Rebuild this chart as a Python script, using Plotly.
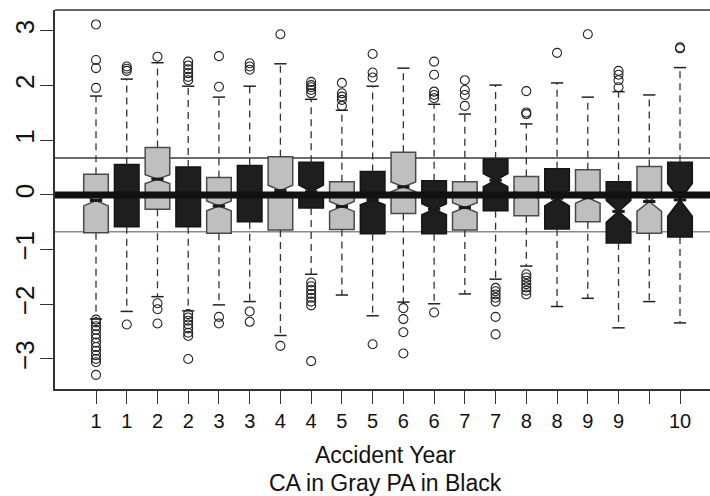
import plotly.graph_objects as go

# Box positions along the x axis and their tick labels (accident year)
positions = list(range(1, 21))
tick_labels = ["1", "1", "2", "2", "3", "3", "4", "4", "5", "5",
               "6", "6", "7", "7", "8", "8", "9", "9", "", "10"]
group = ["CA", "PA"] * 10

# Box statistics per position
q1 = [-0.69, -0.58, -0.26, -0.58, -0.70, -0.49, -0.64, -0.24, -0.63, -0.71,
      -0.34, -0.71, -0.64, -0.29, -0.38, -0.62, -0.49, -0.88, -0.70, -0.77]
median = [-0.10, 0.00, 0.29, 0.00, -0.20, 0.00, 0.08, 0.06, -0.21, -0.09,
          0.15, -0.26, -0.23, 0.27, 0.00, -0.06, -0.05, -0.30, -0.12, -0.09]
q3 = [0.38, 0.56, 0.87, 0.51, 0.32, 0.54, 0.70, 0.60, 0.24, 0.43,
      0.78, 0.26, 0.24, 0.66, 0.34, 0.48, 0.46, 0.24, 0.52, 0.60]
whisker_lo = [-2.27, -2.13, -1.86, -2.12, -2.01, -1.95, -2.57, -1.45, -1.83, -2.21,
              -1.96, -1.99, -1.81, -1.54, -1.30, -2.04, -1.89, -2.43, -1.95, -2.34]
whisker_hi = [1.81, 2.12, 2.42, 1.99, 1.79, 1.99, 2.40, 1.75, 1.55, 1.99,
              2.32, 1.66, 1.48, 2.01, 1.30, 2.05, 1.79, 1.89, 1.83, 2.33]
notch_half = [0.10, 0.05, 0.08, 0.05, 0.09, 0.05, 0.10, 0.12, 0.09, 0.09,
              0.09, 0.10, 0.09, 0.12, 0.06, 0.14, 0.10, 0.20, 0.18, 0.30]
outliers = [
    [3.12, 2.47, 2.32, 1.96, -2.28, -2.33, -2.40, -2.47, -2.55, -2.62, -2.70,
     -2.78, -2.85, -2.93, -3.00, -3.06, -3.29],
    [2.35, 2.31, 2.27, -2.37],
    [2.53, -1.98, -2.09, -2.35],
    [2.44, 2.37, 2.30, 2.23, 2.16, 2.10, -2.18, -2.24, -2.30, -2.37, -2.44,
     -2.52, -2.58, -3.00],
    [2.54, 1.98, -2.23, -2.35],
    [2.41, 2.35, 2.29, -2.13, -2.32],
    [2.94, -2.76],
    [2.07, 2.01, 1.97, 1.92, 1.86, -1.60, -1.67, -1.74, -1.81, -1.88, -1.95,
     -2.02, -3.04],
    [2.05, 1.86, 1.80, 1.74, 1.63],
    [2.58, 2.24, 2.15, -2.73],
    [-2.07, -2.27, -2.51, -2.90],
    [2.44, 2.20, 1.89, 1.83, 1.77, -2.15],
    [2.10, 1.92, 1.83, 1.63],
    [-1.70, -1.76, -1.82, -1.88, -1.95, -2.23, -2.55],
    [1.90, 1.51, 1.48, -1.45, -1.51, -1.57, -1.63, -1.69, -1.75, -1.82],
    [2.60],
    [2.94],
    [2.27, 2.20, 2.10, 1.97],
    [],
    [2.70, 2.68],
]
y_ticks = [-3, -2, -1, 0, 1, 2, 3]
quartile_ref = 0.6745  # standard normal quartiles

BOX_W = 0.8
STAPLE_HALF = 0.2
MEDIAN_HALF = 0.2
FONT = "Liberation Sans, Arial, Helvetica, sans-serif"

styles = {
    "CA": dict(fill="#bfbfbf", edge="#4a4a4a"),
    "PA": dict(fill="#1e1e1e", edge="#141414"),
}

fig = go.Figure()

# notched boxes, one trace per group
for g in ["CA", "PA"]:
    idx = [i for i in range(len(positions)) if group[i] == g]
    fig.add_trace(go.Box(
        x=[positions[i] for i in idx],
        q1=[q1[i] for i in idx],
        median=[median[i] for i in idx],
        q3=[q3[i] for i in idx],
        lowerfence=[q1[i] for i in idx],
        upperfence=[q3[i] for i in idx],
        notched=True,
        notchspan=[notch_half[i] for i in idx],
        notchwidth=0.5,
        width=BOX_W,
        whiskerwidth=0,
        boxpoints=False,
        fillcolor=styles[g]["fill"],
        line=dict(color=styles[g]["edge"], width=1.5),
        hoverinfo="skip",
        showlegend=False,
    ))

# dashed whiskers
wx, wy = [], []
for p, a, b, lo, hi in zip(positions, q1, q3, whisker_lo, whisker_hi):
    wx += [p, p, None, p, p, None]
    wy += [b, hi, None, a, lo, None]
fig.add_trace(go.Scatter(x=wx, y=wy, mode="lines",
                         line=dict(color="#333333", width=1.3, dash="7px,5px"),
                         hoverinfo="skip", showlegend=False))

# staples at whisker ends
sx, sy = [], []
for p, lo, hi in zip(positions, whisker_lo, whisker_hi):
    sx += [p - STAPLE_HALF, p + STAPLE_HALF, None, p - STAPLE_HALF, p + STAPLE_HALF, None]
    sy += [hi, hi, None, lo, lo, None]
fig.add_trace(go.Scatter(x=sx, y=sy, mode="lines",
                         line=dict(color="#222222", width=1.5),
                         hoverinfo="skip", showlegend=False))

# thick median bars
mx, my = [], []
for p, m in zip(positions, median):
    mx += [p - MEDIAN_HALF, p + MEDIAN_HALF, None]
    my += [m, m, None]
fig.add_trace(go.Scatter(x=mx, y=my, mode="lines",
                         line=dict(color="#1a1a1a", width=3),
                         hoverinfo="skip", showlegend=False))

# outlying points
ox, oy = [], []
for p, pts in zip(positions, outliers):
    ox += [p] * len(pts)
    oy += pts
fig.add_trace(go.Scatter(x=ox, y=oy, mode="markers",
                         marker=dict(symbol="circle-open", size=9,
                                     color="#222222", line=dict(width=1.1)),
                         hoverinfo="skip", showlegend=False))

shapes = [
    # reference quartile lines behind the boxes
    dict(type="line", xref="paper", x0=0, x1=1, yref="y",
         y0=quartile_ref, y1=quartile_ref, layer="below",
         line=dict(color="#3a3a3a", width=1.5)),
    dict(type="line", xref="paper", x0=0, x1=1, yref="y",
         y0=-quartile_ref, y1=-quartile_ref, layer="below",
         line=dict(color="#8a8a8a", width=1.5)),
    # heavy zero line on top
    dict(type="line", xref="paper", x0=0, x1=1, yref="y",
         y0=0, y1=0, layer="above",
         line=dict(color="#111111", width=7)),
    # top edge of the plot frame
    dict(type="line", xref="paper", x0=0, x1=1, yref="paper",
         y0=1, y1=1, layer="above",
         line=dict(color="#333333", width=1.5)),
]

fig.update_layout(
    width=710, height=496,
    margin=dict(l=55, r=0, t=10, b=107),
    paper_bgcolor="white", plot_bgcolor="white",
    font=dict(family=FONT, color="#111111"),
    shapes=shapes,
    showlegend=False,
    annotations=[
        dict(text="Accident Year", xref="paper", yref="paper",
             x=0.5053, y=-0.174, xanchor="center", yanchor="middle",
             showarrow=False, font=dict(size=23, family=FONT, color="#111111")),
        dict(text="CA in Gray PA in Black", xref="paper", yref="paper",
             x=0.5053, y=-0.248, xanchor="center", yanchor="middle",
             showarrow=False, font=dict(size=23, family=FONT, color="#111111")),
    ],
)

fig.update_xaxes(
    range=[-0.334, 20.976],
    tickmode="array", tickvals=positions, ticktext=tick_labels,
    ticks="outside", ticklen=13, tickwidth=1.3, tickcolor="#333333",
    showline=True, linecolor="#333333", linewidth=1.5,
    showgrid=False, zeroline=False,
    tickfont=dict(size=20, family=FONT, color="#111111"),
)
fig.update_yaxes(
    range=[-3.549, 3.384],
    tickmode="array", tickvals=y_ticks,
    ticks="outside", ticklen=13, tickwidth=1.3, tickcolor="#333333",
    tickangle=-90, ticklabelstandoff=-4,
    showline=True, linecolor="#333333", linewidth=1.5,
    showgrid=False, zeroline=False,
    tickfont=dict(size=26, family=FONT, color="#111111"),
)

fig.write_html("out.html")
